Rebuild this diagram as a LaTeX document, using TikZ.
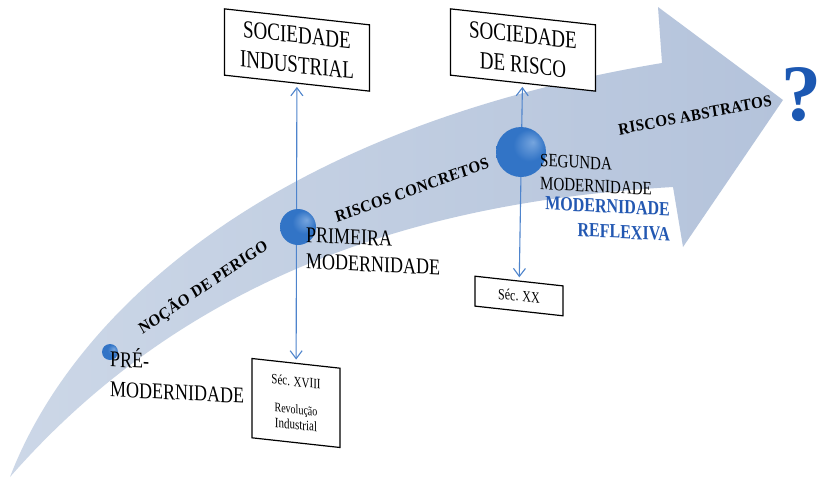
\documentclass[tikz,border=0pt]{standalone}
\usepackage{fontspec}
\setmainfont{Liberation Serif}
\usetikzlibrary{arrows.meta}
\definecolor{bandlo}{RGB}{204,215,231}
\definecolor{bandhi}{RGB}{180,195,219}
\definecolor{spherec}{RGB}{50,116,198}
\definecolor{sphlight}{RGB}{118,165,222}
\definecolor{linkblue}{RGB}{78,132,204}
\definecolor{reflblue}{RGB}{35,88,178}
\definecolor{qblue}{RGB}{28,88,178}
\pgfdeclareradialshading{orb}{\pgfpoint{12bp}{10bp}}{%
  color(0bp)=(sphlight); color(16bp)=(spherec); color(34bp)=(spherec);
  color(50bp)=(spherec!82!black)}

\begin{document}
\begin{tikzpicture}[x=1pt,y=-1pt,
  era/.style={draw=black, line width=1.2pt, fill=white, align=center,
    inner sep=2pt, yslant=-0.11, yscale=1.3},
  ball/.style={circle, shading=orb, inner sep=0pt, draw=none},
  stage/.style={align=left, inner sep=0pt, anchor=west, yslant=-0.05, yscale=1.25},
  risk/.style={font=\bfseries\fontsize{15}{17}\selectfont\addfontfeatures{LetterSpace=3},
    inner sep=0pt, yscale=1.1},
  link/.style={draw=linkblue, line width=1.1pt, shorten <=3pt, shorten >=3pt,
    {Straight Barb[length=8pt,width=12pt]}-{Straight Barb[length=8pt,width=12pt]}}
]
\useasboundingbox (0,0) rectangle (820,482);
\fill[white] (0,0) rectangle (820,482);

% curved timeline arrow
\shade[left color=bandlo, right color=bandhi]
  (10,477) .. controls (70,320) and (260,130) .. (662,63)
  -- (658,7) -- (783,100) -- (683,247) -- (673,187)
  .. controls (450,200) and (200,260) .. (10,477) -- cycle;

% societies and centuries
\node[era, minimum width=145pt, minimum height=51pt,
  font=\fontsize{19}{23}\selectfont] (si) at (297,50) {SOCIEDADE\\INDUSTRIAL};
\node[era, minimum width=145pt, minimum height=51pt,
  font=\fontsize{19}{23}\selectfont] (sr) at (523,50) {SOCIEDADE\\DE RISCO};
\node[era, minimum width=88pt, minimum height=61pt,
  font=\fontsize{11}{12}\selectfont] (s18) at (296,403)
  {Séc. XVIII\\[9pt]\fontsize{10}{11}\selectfont Revolução\\Industrial};
\node[era, minimum width=88pt, minimum height=23pt,
  font=\fontsize{12}{14}\selectfont] (s20) at (519,296) {Séc. XX};

% period links
\draw[link] (si) -- (s18);
\draw[link] (sr) -- (s20);

% stages
\node[ball, minimum size=16pt] (b0) at (110,352) {};
\node[ball, minimum size=36pt] (b1) at (298,227) {};
\node[ball, minimum size=50pt] (b2) at (521,152) {};

\node[stage, font=\fontsize{18}{24}\selectfont] (pre) at (110,372) {PRÉ-\\MODERNIDADE};
\node[stage, font=\fontsize{18}{21}\selectfont] (prim) at (306,248) {PRIMEIRA\\MODERNIDADE};
\node[stage, font=\fontsize{15}{18.5}\selectfont] (seg) at (540,172) {SEGUNDA\\MODERNIDADE};
\node[stage, anchor=east, align=right, text=reflblue,
  font=\bfseries\fontsize{16}{20}\selectfont] (refl) at (670,222) {MODERNIDADE\\REFLEXIVA};

% kinds of risk
\node[risk, rotate=32] (perigo) at (203,287) {NOÇÃO DE PERIGO};
\node[risk, rotate=18] (concr) at (412,190) {RISCOS CONCRETOS};
\node[risk, rotate=10] (abstr) at (695,115) {RISCOS ABSTRATOS};

\node[font=\bfseries\fontsize{80}{80}\selectfont, text=qblue, inner sep=0pt] (q) at (801,95) {?};
\end{tikzpicture}
\end{document}
